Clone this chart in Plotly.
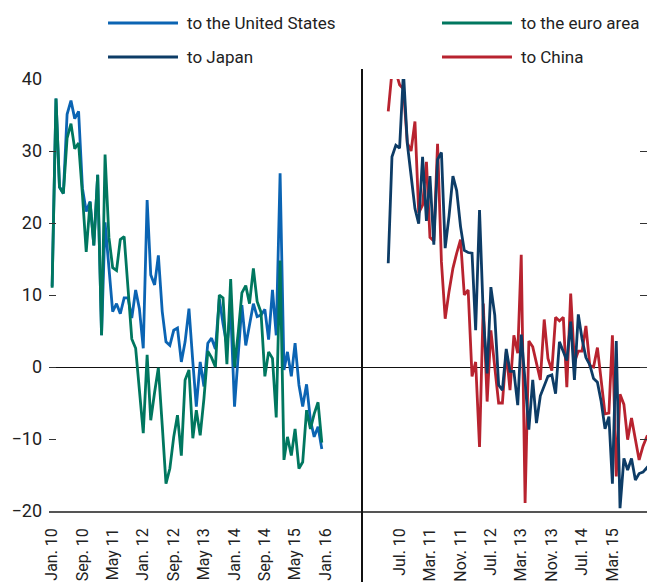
import pandas as pd
import plotly.graph_objects as go

# ---------------- data (percent, monthly) ---------------- #
# left panel: Jan 2010 - Dec 2015
us = [11.2, 37.3, 25.0, 24.1, 35.1, 37.0, 34.5, 35.5, 24.8, 21.6,
      23.0, 16.9, 26.7, 4.4, 20.1, 13.8, 7.7, 8.8, 7.4, 9.6,
      9.6, 6.8, 10.7, 8.1, 2.6, 23.2, 12.8, 11.4, 15.5, 7.7,
      3.5, 3.0, 5.1, 5.4, 0.7, 3.5, 8.1, 0.7, -5.5, 0.7,
      -2.7, 3.3, 4.0, 2.5, 9.5, 6.0, 3.0, 8.0, -5.5, 2.0,
      8.6, 3.0, 6.1, 8.8, 7.0, 7.2, 8.0, 3.8, 10.7, 4.4,
      26.9, -0.4, 2.1, -1.3, 3.3, -2.5, -5.5, -2.4, -7.4, -9.7,
      -8.3, -11.4]
euro = [11.0, 37.3, 25.0, 24.1, 31.8, 33.8, 30.3, 31.1, 23.9, 16.0,
        22.9, 16.9, 26.7, 4.4, 29.5, 18.0, 13.8, 13.4, 17.7, 18.1,
        10.9, 3.9, 2.6, -3.0, -9.2, 1.7, -7.4, -3.5, -0.1, -8.1,
        -16.2, -14.1, -9.7, -6.7, -12.3, -1.8, -0.4, -9.9, -6.0, -9.5,
        -4.4, 2.2, 1.3, 0.0, 10.0, 9.6, 0.4, 12.2, 0.0, 5.0,
        10.3, 11.3, 8.8, 13.7, 9.1, 7.6, -1.3, 2.1, 1.2, -7.0,
        14.8, -12.9, -9.7, -12.3, -8.6, -14.1, -13.2, -6.0, -8.6, -6.5,
        -4.9, -10.5]

# right panel: Apr 2010 - Feb 2016
japan = [14.4, 29.2, 30.8, 30.4, 41.0, 31.0, 26.6, 22.0, 19.9, 29.2,
         20.3, 26.5, 17.0, 28.8, 29.8, 16.5, 21.0, 26.5, 24.5, 19.5,
         16.2, 15.9, 15.8, 5.1, 21.8, 7.2, -0.9, 11.1, 7.2, -2.5,
         -3.2, 2.5, -0.6, -0.6, -5.3, 4.5, -2.0, -8.7, -1.8, -7.8,
         -4.0, -2.5, -1.3, -1.1, -3.7, 3.5, 2.1, 0.9, 6.3, -1.8,
         7.3, 3.9, 1.3, 0.3, -1.6, -2.1, -4.8, -8.6, -6.9, -16.2,
         3.6, -19.6, -12.7, -14.3, -12.7, -15.7, -14.8, -14.6, -14.0, -14.8,
         -16.6, -12.2]
china = [35.5, 41.0, 41.0, 39.2, 38.6, 31.1, 30.0, 34.1, 21.4, 22.5,
         28.5, 18.0, 17.5, 31.0, 14.6, 6.7, 10.5, 13.7, 15.8, 17.7,
         10.0, 10.7, -1.3, 0.7, -11.1, 8.8, -4.8, 5.1, 0.0, -5.0,
         -5.0, 2.1, -3.2, 4.4, 1.9, 15.6, -18.9, 3.6, 2.8, 0.5,
         -1.8, 6.6, 1.2, -0.5, 6.9, 6.4, 6.9, -2.8, 10.2, 0.7,
         2.2, 2.2, 5.7, 0.2, 0.0, 2.7, -2.0, -6.5, -6.4, 4.4,
         -15.2, -3.8, -5.2, -10.1, -7.1, -10.0, -12.9, -11.0, -9.7, -10.1,
         -11.5]

left_dates = pd.date_range("2010-01-01", periods=len(us), freq="MS")
right_dates = pd.date_range("2010-04-01", periods=len(china), freq="MS")

left_ticks = ["2010-01-01", "2010-09-01", "2011-05-01", "2012-01-01", "2012-09-01",
              "2013-05-01", "2014-01-01", "2014-09-01", "2015-05-01", "2016-01-01"]
left_labels = ["Jan. 10", "Sep. 10", "May 11", "Jan. 12", "Sep. 12",
               "May 13", "Jan. 14", "Sep. 14", "May 15", "Jan. 16"]
right_ticks = ["2010-07-01", "2011-03-01", "2011-11-01", "2012-07-01", "2013-03-01",
               "2013-11-01", "2014-07-01", "2015-03-01", "2016-01-01"]
right_labels = ["Jul. 10", "Mar. 11", "Nov. 11", "Jul. 12", "Mar. 13",
                "Nov. 13", "Jul. 14", "Mar. 15", "Jan. 16"]

y_ticks = [-20, -10, 0, 10, 20, 30, 40]
y_labels = ["\u221220", "\u221210", "0", "10", "20", "30", "40"]

C_US, C_EA, C_JP, C_CN = "#0b64b3", "#00775f", "#0d3c66", "#b8232f"
FONT = "Roboto, sans-serif"

fig = go.Figure()

fig.add_trace(go.Scatter(x=left_dates, y=us, mode="lines",
                         line=dict(color=C_US, width=2.8), xaxis="x", yaxis="y"))
fig.add_trace(go.Scatter(x=left_dates, y=euro, mode="lines",
                         line=dict(color=C_EA, width=2.8), xaxis="x", yaxis="y"))
fig.add_trace(go.Scatter(x=right_dates, y=china, mode="lines",
                         line=dict(color=C_CN, width=2.8), xaxis="x2", yaxis="y2"))
fig.add_trace(go.Scatter(x=right_dates, y=japan, mode="lines",
                         line=dict(color=C_JP, width=2.8), xaxis="x2", yaxis="y2"))

# the page shows the figure 8px in from the top-left, and only 639px of its width
split = 313 / 598

xcommon = dict(tickmode="array", tickangle=-90, ticks="", showgrid=False,
               zeroline=False, showline=True, linecolor="#555555", linewidth=1.5,
               tickfont=dict(family=FONT, size=16, color="#222222"),
               ticklabelstandoff=9, ticklabeloverflow="allow", automargin=False)
ycommon = dict(range=[-20, 40], tickmode="array", tickvals=y_ticks, showgrid=False,
               zeroline=True, zerolinecolor="#111111", zerolinewidth=1.3,
               ticks="inside", ticklen=7, tickcolor="#333333", tickwidth=1,
               showline=False, automargin=False)

fig.update_layout(
    width=639, height=574,
    margin=dict(l=41, r=0, t=71, b=71),
    paper_bgcolor="white", plot_bgcolor="white",
    showlegend=False,
    font=dict(family=FONT, color="#222222"),
    xaxis=dict(domain=[0, split], range=["2009-12-07", "2016-10-18"],
               tickvals=left_ticks, ticktext=left_labels, anchor="y", **xcommon),
    xaxis2=dict(domain=[split, 1], range=["2009-09-03", "2015-12-03"],
                tickvals=right_ticks, ticktext=right_labels, anchor="y2", **xcommon),
    yaxis=dict(ticktext=y_labels, anchor="x", side="left",
               tickfont=dict(family=FONT, size=18, color="#222222"),
               ticklabelstandoff=6, **ycommon),
    yaxis2=dict(anchor="x2", side="right", matches="y", showticklabels=False,
                **ycommon),
)

# divider between panels
fig.add_shape(type="line", xref="paper", yref="paper", x0=split, x1=split,
              y0=-0.17, y1=1.023, line=dict(color="#111111", width=2))

# legend drawn by hand (two columns)
legend_items = [("to the United States", C_US, 0.0987, 1.1296),
                ("to the euro area", C_EA, 0.6572, 1.1296),
                ("to Japan", C_JP, 0.0987, 1.0509),
                ("to China", C_CN, 0.6572, 1.0509)]
for name, color, lx, ly in legend_items:
    fig.add_shape(type="line", xref="paper", yref="paper", x0=lx, x1=lx + 0.117,
                  y0=ly, y1=ly, line=dict(color=color, width=3))
    fig.add_annotation(xref="paper", yref="paper", x=lx + 0.1287, y=ly, text=name,
                       showarrow=False, xanchor="left", yanchor="middle",
                       font=dict(family=FONT, size=17, color="#222222"))

fig.write_html("out.html")
